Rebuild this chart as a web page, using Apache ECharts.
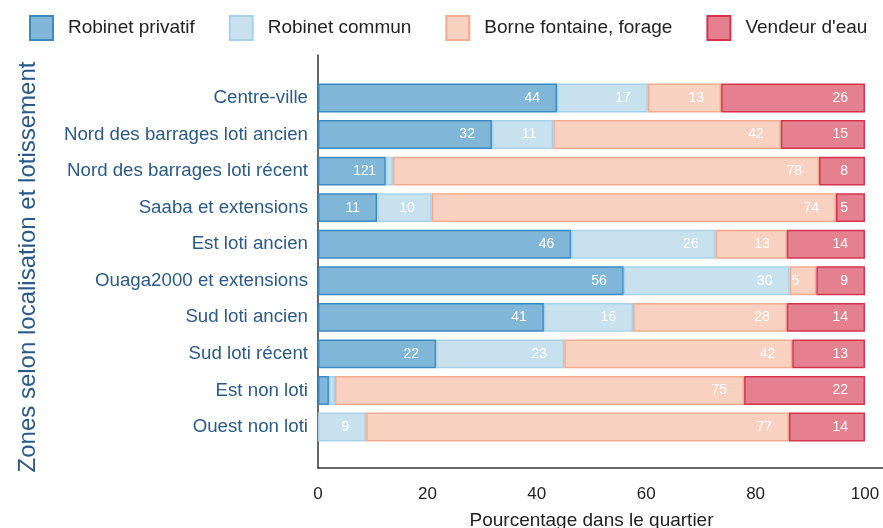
<!DOCTYPE html>
<html>
<head>
<meta charset="utf-8">
<script src="https://cdn.jsdelivr.net/npm/echarts@6/dist/echarts.min.js"></script>
<style>html,body{margin:0;padding:0;background:#fff}#c{width:883px;height:528px}</style>
</head>
<body>
<div id="c"></div>
<script>
const categories = ["Centre-ville","Nord des barrages loti ancien","Nord des barrages loti récent","Saaba et extensions","Est loti ancien","Ouaga2000 et extensions","Sud loti ancien","Sud loti récent","Est non loti","Ouest non loti"];
const seriesNames = ["Robinet privatif","Robinet commun","Borne fontaine, forage","Vendeur d'eau"];
const robinetPrivatif = [43.7, 31.8, 12.4, 10.8, 46.3, 55.9, 41.3, 21.6, 2.0, 0];
const robinetCommun   = [16.6, 11.2, 1.3, 10.0, 26.4, 30.3, 16.3, 23.4, 1.1, 8.8];
const borneFontaine   = [13.4, 41.6, 77.9, 73.9, 13.0, 4.9, 28.1, 41.7, 74.8, 77.3];
const vendeurEau      = [26.3, 15.4, 8.4, 5.3, 14.3, 8.9, 14.3, 13.3, 22.1, 13.9];
const xTicks = [0, 20, 40, 60, 80, 100];

const values = [robinetPrivatif, robinetCommun, borneFontaine, vendeurEau];
const fills = ['#80b7d9', '#c7e1ef', '#f9d1c0', '#e5808f'];
const borders = ['#3a89c2', '#a9d2e8', '#f3ab8f', '#d6334f'];
const FONT = '"Liberation Sans", Arial, Helvetica, sans-serif';

// cumulative ends, to hide labels that would fall outside the plot
const cum = values.map((arr, s) => arr.map((v, i) => values.slice(0, s + 1).reduce((a, b) => a + b[i], 0)));

const series = values.map((arr, s) => ({
  name: seriesNames[s],
  type: 'bar',
  stack: 'total',
  xAxisIndex: 0, yAxisIndex: 0,
  barCategoryGap: '21%',
  itemStyle: { color: fills[s], borderColor: borders[s], borderWidth: 1.5 },
  label: {
    show: true, position: 'insideRight', distance: 17,
    color: '#fff', fontSize: 14, fontFamily: FONT,
    formatter: p => (p.value <= 0 || cum[s][p.dataIndex] < 4) ? '' : String(Math.round(p.value))
  },
  emphasis: { disabled: true },
  data: arr
}));

const chart = echarts.init(document.getElementById('c'));
chart.setOption({
  animation: false,
  textStyle: { fontFamily: FONT },
  legend: {
    left: 24, top: 10,
    itemWidth: 23, itemHeight: 24, itemGap: 34,
    icon: 'rect',
    textStyle: { fontSize: 19, color: '#222', fontFamily: FONT, padding: [0, 0, 0, 10] },
    data: seriesNames
  },
  grid: [
    { left: 318, right: 18, top: 79.7, bottom: 82.7, outerBoundsMode: 'none', containLabel: false },
    { left: 318, right: 0, top: 55, bottom: 60, outerBoundsMode: 'none', containLabel: false }
  ],
  xAxis: [
    {
      gridIndex: 0, type: 'value', min: xTicks[0], max: xTicks[xTicks.length - 1], interval: 20,
      axisLine: { show: false }, axisTick: { show: false }, splitLine: { show: false },
      axisLabel: { fontSize: 17, color: '#222', margin: 41, fontFamily: FONT },
      name: 'Pourcentage dans le quartier', nameLocation: 'middle', nameGap: 66,
      nameTextStyle: { fontSize: 19, color: '#222', fontFamily: FONT }
    },
    {
      gridIndex: 1, type: 'value', min: 0, max: 1,
      axisLine: { show: true, lineStyle: { color: '#333', width: 1.5 } },
      axisTick: { show: false }, axisLabel: { show: false }, splitLine: { show: false }
    }
  ],
  yAxis: [
    {
      gridIndex: 0, type: 'category', inverse: true, data: categories,
      axisLine: { show: false }, axisTick: { show: false },
      axisLabel: { fontSize: 18.7, color: '#2a5a8a', margin: 10, fontFamily: FONT }
    },
    {
      gridIndex: 1, type: 'value', min: 0, max: 1,
      axisLine: { show: true, lineStyle: { color: '#333', width: 1.5 } },
      axisTick: { show: false }, axisLabel: { show: false }, splitLine: { show: false }
    }
  ],
  graphic: [{
    type: 'text', x: 28, y: 267, rotation: Math.PI / 2,
    style: {
      text: 'Zones selon localisation et lotissement',
      fontSize: 24, fill: '#2a5a8a', fontFamily: FONT,
      align: 'center', verticalAlign: 'middle'
    }
  }],
  series: series
});
</script>
</body>
</html>
